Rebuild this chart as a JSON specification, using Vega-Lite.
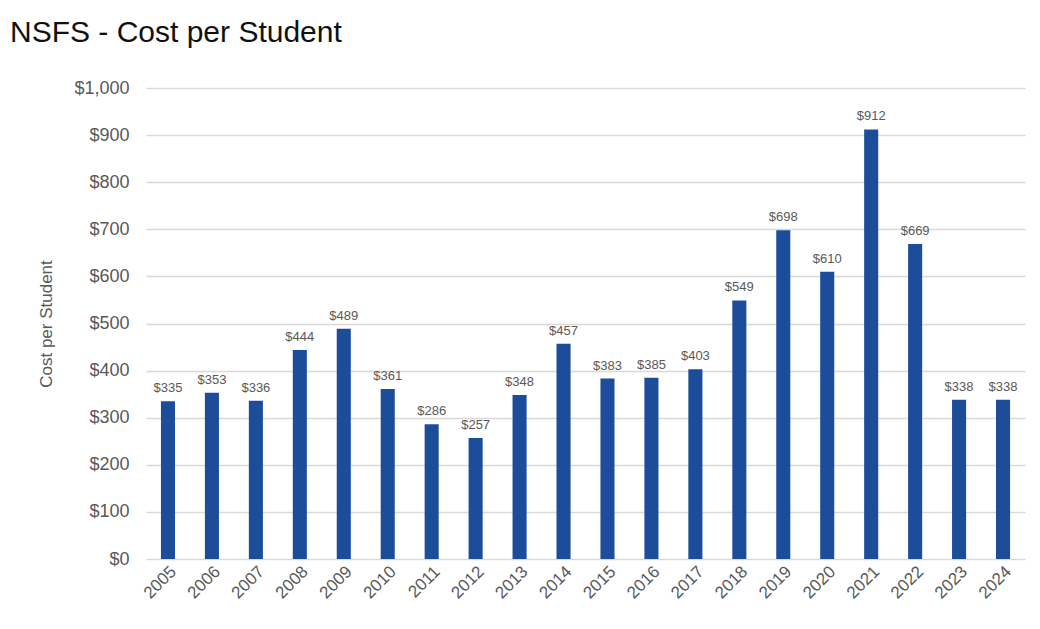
{
  "$schema": "https://vega.github.io/schema/vega-lite/v6.json",
  "autosize": {"type": "none"},
  "width": 879,
  "height": 471,
  "padding": {"left": 146, "top": 88, "right": 15, "bottom": 70},
  "background": "white",
  "title": {
    "text": "NSFS - Cost per Student",
    "anchor": "start",
    "frame": "group",
    "dx": -136,
    "fontSize": 30,
    "font": "Liberation Sans",
    "fontWeight": "normal",
    "color": "#111111",
    "offset": 31
  },
  "data": {
    "values": [
      {"year": "2005", "cost": 335},
      {"year": "2006", "cost": 353},
      {"year": "2007", "cost": 336},
      {"year": "2008", "cost": 444},
      {"year": "2009", "cost": 489},
      {"year": "2010", "cost": 361},
      {"year": "2011", "cost": 286},
      {"year": "2012", "cost": 257},
      {"year": "2013", "cost": 348},
      {"year": "2014", "cost": 457},
      {"year": "2015", "cost": 383},
      {"year": "2016", "cost": 385},
      {"year": "2017", "cost": 403},
      {"year": "2018", "cost": 549},
      {"year": "2019", "cost": 698},
      {"year": "2020", "cost": 610},
      {"year": "2021", "cost": 912},
      {"year": "2022", "cost": 669},
      {"year": "2023", "cost": 338},
      {"year": "2024", "cost": 338}
    ]
  },
  "encoding": {
    "x": {
      "field": "year",
      "type": "ordinal",
      "scale": {"paddingInner": 0.68, "paddingOuter": 0.34},
      "axis": {
        "title": null,
        "labelAngle": -45,
        "labelFontSize": 17,
        "labelFont": "Liberation Sans",
        "labelColor": "#595959",
        "labelPadding": 4,
        "ticks": false,
        "domain": false
      }
    },
    "y": {
      "field": "cost",
      "type": "quantitative",
      "scale": {"domain": [0, 1000]},
      "axis": {
        "title": "Cost per Student",
        "titleFontSize": 17,
        "titleFont": "Liberation Sans",
        "titleFontWeight": "normal",
        "titleColor": "#595959",
        "titlePadding": 18,
        "values": [0, 100, 200, 300, 400, 500, 600, 700, 800, 900, 1000],
        "format": "$,.0f",
        "labelFontSize": 18,
        "labelFont": "Liberation Sans",
        "labelColor": "#595959",
        "labelPadding": 17,
        "ticks": false,
        "domain": false,
        "gridColor": "#d9d9d9",
        "gridWidth": 1.5
      }
    }
  },
  "layer": [
    {"mark": {"type": "bar", "color": "#1c4d9b"}},
    {
      "mark": {
        "type": "text",
        "dy": -13,
        "fontSize": 13,
        "font": "Liberation Sans",
        "color": "#595959"
      },
      "encoding": {
        "text": {"field": "cost", "type": "quantitative", "format": "$,.0f"}
      }
    }
  ],
  "config": {"view": {"stroke": null}}
}
